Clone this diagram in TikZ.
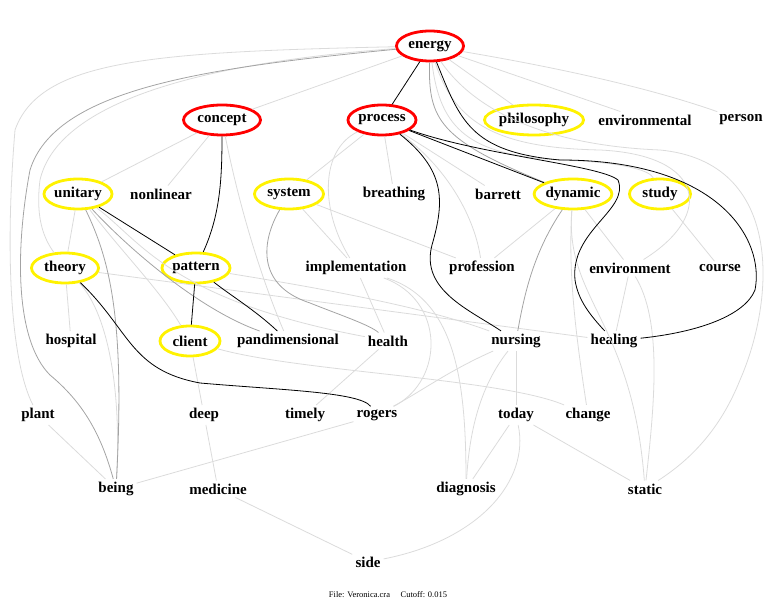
\documentclass[tikz,border=0pt]{standalone}
\usepackage{fontspec}
\setmainfont{Liberation Serif}
\usetikzlibrary{shapes.geometric}

\begin{document}
\begin{tikzpicture}[x=1pt, y=-1pt, font=\bfseries\fontsize{15}{17}\selectfont,
  term/.style={inner sep=3pt},
  ring/.style={term, ellipse, inner xsep=0pt, inner ysep=0pt, minimum height=30pt,
               line width=2.8pt, minimum width=#1},
  hub/.style={ring=#1, draw=red},
  core/.style={ring=#1, draw=yellow},
  weak/.style={draw=black!14, line width=0.8pt},
  medium/.style={draw=black!36, line width=0.8pt},
  firm/.style={draw=black, line width=0.8pt}]
  \useasboundingbox (0,0) rectangle (780,609);
  % row 1 and 2
  \node[hub=67pt] (energy) at (430,46) {energy};
  \node[hub=77pt] (concept) at (222,120) {concept};
  \node[hub=68pt] (process) at (382,120) {process};
  \node[core=95pt] (philosophy) at (534,120) {philosophy};
  \node[term] (environmental) at (645,120) {environmental};
  \node[term] (person) at (741,120) {person};
  % row 3
  \node[core=68pt] (unitary) at (78,194) {unitary};
  \node[term] (nonlinear) at (161,194) {nonlinear};
  \node[core=69pt] (system) at (289,194) {system};
  \node[term] (breathing) at (394,194) {breathing};
  \node[term] (barrett) at (498,194) {barrett};
  \node[core=77pt] (dynamic) at (573,194) {dynamic};
  \node[core=61pt] (study) at (660,194) {study};
  % row 4
  \node[core=67pt] (theory) at (65,268) {theory};
  \node[core=68pt] (pattern) at (196,268) {pattern};
  \node[term] (implementation) at (356,268) {implementation};
  \node[term] (profession) at (482,268) {profession};
  \node[term] (environment) at (630,268) {environment};
  \node[term] (course) at (720,268) {course};
  % row 5
  \node[term] (hospital) at (71,341) {hospital};
  \node[core=60pt] (client) at (190,341) {client};
  \node[term] (pandimensional) at (288,341) {pandimensional};
  \node[term] (health) at (388,341) {health};
  \node[term] (nursing) at (516,341) {nursing};
  \node[term] (healing) at (614,341) {healing};
  % row 6
  \node[term] (plant) at (38,415) {plant};
  \node[term] (deep) at (204,415) {deep};
  \node[term] (timely) at (305,415) {timely};
  \node[term] (rogers) at (377,415) {rogers};
  \node[term] (today) at (516,415) {today};
  \node[term] (change) at (588,415) {change};
  % row 7 and 8
  \node[term] (being) at (116,489) {being};
  \node[term] (medicine) at (218,489) {medicine};
  \node[term] (diagnosis) at (466,489) {diagnosis};
  \node[term] (static) at (645,489) {static};
  \node[term] (side) at (368,562) {side};
  \node[font=\fontsize{8.5}{10}\selectfont] (footer) at (388,595) {File: Veronica.cra\quad\ Cutoff: 0.015};

  % faint links
  \draw[weak] (energy) -- (concept);
  \draw[weak] (energy) .. controls (150,52) and (40,60) .. (15,130) .. controls (5,250) and (10,360) .. (plant);
  \draw[weak] (energy) .. controls (160,66) and (55,115) .. (40,180) .. controls (35,220) and (45,240) .. (theory);
  \draw[weak] (energy) .. controls (560,68) and (650,88) .. (person);
  \draw[weak] (energy) -- (environmental);
  \draw[weak] (energy) -- (philosophy);
  \draw[weak] (energy) .. controls (440,130) and (470,155) .. (560,160) .. controls (620,162) and (650,170) .. (study);
  \draw[weak] (energy) .. controls (455,125) and (500,148) .. (600,150) .. controls (705,155) and (715,215) .. (environment);
  \draw[weak] (energy) .. controls (480,118) and (560,146) .. (660,150) .. controls (785,162) and (775,300) .. (740,380) .. controls (720,430) and (690,460) .. (static);
  \draw[weak] (concept) -- (unitary);
  \draw[weak] (concept) -- (nonlinear);
  \draw[weak] (concept) .. controls (240,210) and (262,280) .. (pandimensional);
  \draw[weak] (unitary) -- (theory);
  \draw[weak] (unitary) .. controls (120,250) and (160,290) .. (client);
  \draw[weak] (unitary) .. controls (140,240) and (170,300) .. (health);
  \draw[weak] (theory) -- (hospital);
  \draw[weak] (theory) .. controls (105,310) and (122,380) .. (being);
  \draw[weak] (theory) -- (healing);
  \draw[weak] (pattern) .. controls (300,285) and (420,305) .. (nursing);
  \draw[weak] (client) .. controls (300,372) and (500,378) .. (change);
  \draw[weak] (client) -- (deep);
  \draw[weak] (deep) -- (medicine);
  \draw[weak] (plant) -- (being);
  \draw[weak] (being) -- (rogers);
  \draw[weak] (medicine) -- (side);
  \draw[weak] (side) .. controls (480,540) and (530,480) .. (today);
  \draw[weak] (today) -- (diagnosis);
  \draw[weak] (today) -- (static);
  \draw[weak] (nursing) -- (today);
  \draw[weak] (nursing) .. controls (485,380) and (470,420) .. (diagnosis);
  \draw[weak] (nursing) .. controls (450,370) and (420,392) .. (rogers);
  \draw[weak] (health) -- (timely);
  \draw[weak] (environment) .. controls (662,320) and (655,400) .. (static);
  \draw[weak] (environment) -- (healing);
  \draw[weak] (dynamic) .. controls (568,270) and (575,330) .. (change);
  \draw[weak] (dynamic) .. controls (565,300) and (632,320) .. (static);
  \draw[weak] (study) -- (course);
  \draw[weak] (dynamic) -- (profession);
  \draw[weak] (dynamic) -- (environment);
  \draw[weak] (process) -- (breathing);
  \draw[weak] (process) -- (barrett);
  \draw[weak] (process) .. controls (450,170) and (475,220) .. (profession);
  \draw[weak] (process) -- (system);
  \draw[weak] (process) .. controls (320,150) and (320,210) .. (implementation);
  \draw[weak] (system) -- (implementation);
  \draw[weak] (system) -- (profession);
  \draw[weak] (implementation) -- (health);
  \draw[weak] (implementation) .. controls (445,300) and (445,380) .. (rogers);
  \draw[weak] (implementation) .. controls (455,300) and (466,380) .. (diagnosis);

  % middle links
  \draw[medium] (energy) .. controls (200,68) and (55,90) .. (30,170) .. controls (15,250) and (15,340) .. (50,375) .. controls (80,400) and (100,430) .. (being);
  \draw[medium] (unitary) .. controls (110,260) and (125,320) .. (being);
  \draw[medium] (unitary) .. controls (130,250) and (200,310) .. (pandimensional);
  \draw[medium] (system) .. controls (262,240) and (255,285) .. (310,303) .. controls (340,315) and (370,325) .. (health);
  \draw[medium] (dynamic) .. controls (535,250) and (525,290) .. (nursing);
  \draw[medium] (energy) .. controls (428,120) and (440,140) .. (dynamic);

  % strong links
  \draw[firm] (energy) -- (process);
  \draw[firm] (energy) .. controls (460,120) and (470,152) .. (560,160) .. controls (720,160) and (765,240) .. (755,290) .. controls (745,315) and (700,332) .. (healing);
  \draw[firm] (process) .. controls (480,155) and (600,165) .. (618,180) .. controls (630,210) and (570,230) .. (575,280) .. controls (578,300) and (590,315) .. (healing);
  \draw[firm] (process) -- (dynamic);
  \draw[firm] (process) .. controls (445,170) and (445,200) .. (432,245) .. controls (420,290) and (470,310) .. (nursing);
  \draw[firm] (concept) .. controls (222,180) and (220,215) .. (pattern);
  \draw[firm] (unitary) -- (pattern);
  \draw[firm] (pattern) -- (client);
  \draw[firm] (pattern) .. controls (230,295) and (255,310) .. (pandimensional);
  \draw[firm] (theory) .. controls (130,330) and (130,370) .. (200,383) .. controls (280,390) and (360,392) .. (rogers);
\end{tikzpicture}
\end{document}
